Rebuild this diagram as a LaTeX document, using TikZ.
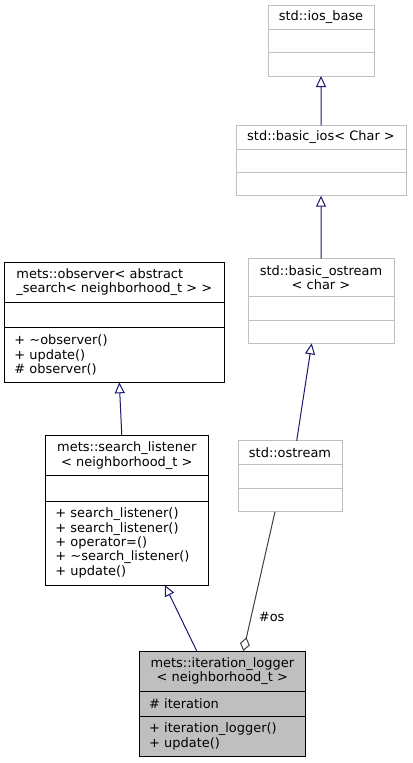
\documentclass[tikz,border=0pt]{standalone}
\usepackage{fontspec}
\setmainfont{DejaVu Sans}
\usepackage{tikz}
\usetikzlibrary{positioning}
\usetikzlibrary{arrows.meta}
\usepackage{xcolor}
\definecolor{edgeblue} {RGB} {25,25,112}
\definecolor{boxgray} {RGB} {191,191,191}
\definecolor{agggray} {RGB} {64,64,64}
\newcommand{\dvs}{\fontsize{13}{14.4}\selectfont}
\tikzstyle{hd} = [rectangle,draw,line width=1bp,inner sep=0pt,outer sep=0pt,align=center,font=\dvs]
\tikzstyle{sec} = [rectangle,draw,line width=1bp,inner xsep=10bp,inner ysep=0pt,outer sep=0pt,align=left,font=\dvs]
\tikzstyle{gbox} = [draw=boxgray,fill=white]
\tikzstyle{bbox} = [draw=black,fill=white]
\tikzstyle{cbox} = [draw=black,fill=boxgray]
\tikzstyle{inh} = [draw=edgeblue,line width=1bp,-{Triangle[open,length=11bp,width=10bp]}]
\tikzstyle{agg} = [draw=agggray,line width=1bp,-{Diamond[open,length=14bp,width=10bp]}]

\begin{document}
\begin{tikzpicture}[x=1bp,y=-1bp]
  \useasboundingbox (0,0) rectangle (412,763);

  \node [hd,gbox,anchor=north west,minimum width=106bp,minimum height=24bp] (n1) at (268,5.3) {std::ios\_base};
  \node [hd,gbox,below=0pt of n1,minimum width=106bp,minimum height=23.4bp] (a1) {};
  \node [hd,gbox,below=0pt of a1,minimum width=106bp,minimum height=23.3bp] (m1) {};

  \node [hd,gbox,anchor=north west,minimum width=170bp,minimum height=23.7bp] (n2) at (236,125.3) {std::basic\_ios< Char >};
  \node [hd,gbox,below=0pt of n2,minimum width=170bp,minimum height=23.3bp] (a2) {};
  \node [hd,gbox,below=0pt of a2,minimum width=170bp,minimum height=23.4bp] (m2) {};

  \node [hd,gbox,anchor=north west,minimum width=146bp,minimum height=37.3bp] (n3) at (248,258.7) {std::basic\_ostream\\< char >};
  \node [hd,gbox,below=0pt of n3,minimum width=146bp,minimum height=24bp] (a3) {};
  \node [hd,gbox,below=0pt of a3,minimum width=146bp,minimum height=23.3bp] (m3) {};

  \node [hd,gbox,anchor=north west,minimum width=104bp,minimum height=23.6bp] (n4) at (238,440.7) {std::ostream};
  \node [hd,gbox,below=0pt of n4,minimum width=104bp,minimum height=24bp] (a4) {};
  \node [hd,gbox,below=0pt of a4,minimum width=104bp,minimum height=23.4bp] (m4) {};

  \node [hd,bbox,align=left,anchor=north west,minimum width=220bp,minimum height=40bp] (n5) at (4.3,262.3) {mets::observer< abstract\\\_search< neighborhood\_t > >};
  \node [hd,bbox,below=0pt of n5,minimum width=220bp,minimum height=25.4bp] (a5) {};
  \node [sec,bbox,below=0pt of a5,text width=200bp,minimum height=54.6bp] (m5) {+ \textasciitilde observer()\\+ update()\\\# observer()};

  \node [hd,bbox,anchor=north west,minimum width=163bp,minimum height=40bp] (n6) at (45.3,435.7) {mets::search\_listener\\< neighborhood\_t >};
  \node [hd,bbox,below=0pt of n6,minimum width=163bp,minimum height=25.3bp] (a6) {};
  \node [sec,bbox,below=0pt of a6,text width=143bp,minimum height=84bp] (m6) {+ search\_listener()\\+ search\_listener()\\+ operator=()\\+ \textasciitilde search\_listener()\\+ update()};

  \node [hd,cbox,anchor=north west,minimum width=166.7bp,minimum height=40bp] (n7) at (139,651) {mets::iteration\_logger\\< neighborhood\_t >};
  \node [sec,cbox,below=0pt of n7,text width=146.7bp,minimum height=25.3bp] (a7) {\# iteration};
  \node [sec,cbox,below=0pt of a7,text width=146.7bp,minimum height=40.4bp] (m7) {+ iteration\_logger()\\+ update()};

  \draw [inh] (n2.north) -- (m1.south);
  \draw [inh] (n3.north) -- (m2.south);
  \draw [inh] ([xshift=6.7bp]n4.north) -- ([xshift=-9.3bp]m3.south);
  \draw [inh] ([xshift=-5bp]n6.north) -- ([xshift=5bp]m5.south);
  \draw [inh] ([xshift=-25.6bp]n7.north) -- ([xshift=38bp]m6.south);
  \draw [agg] ([xshift=-15bp]m4.south) -- ([xshift=21bp]n7.north) node [pos=0.755,right=4bp,font=\dvs] (l1) {\#os};

\end{tikzpicture}
\end{document}
